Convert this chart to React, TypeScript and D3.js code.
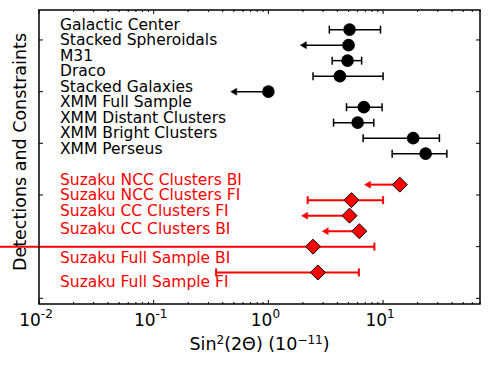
import * as d3 from "d3";

// detections / constraints (black)
const detNames = [
  "Galactic Center",
  "Stacked Spheroidals",
  "M31",
  "Draco",
  "Stacked Galaxies",
  "XMM Full Sample",
  "XMM Distant Clusters",
  "XMM Bright Clusters",
  "XMM Perseus",
];
const detRow = [5.2, 4.9, 4.6, 4.3, 4.0, 3.7, 3.4, 3.1, 2.8];
const detValue = [5.1, 5.0, 4.9, 4.2, 1.0, 6.8, 6.0, 18.3, 23.5];
const detLow = [3.4, null, 3.6, 2.45, null, 4.8, 3.7, 6.7, 12];
const detHigh = [9.5, null, 6.5, 10, null, 9.8, 8.3, 31, 36];
const detLimit = [null, 1.9, null, null, 0.47, null, null, null, null];

// Suzaku (red)
const suzNames = [
  "Suzaku NCC Clusters BI",
  "Suzaku NCC Clusters FI",
  "Suzaku CC Clusters FI",
  "Suzaku CC Clusters BI",
  "Suzaku Full Sample BI",
  "Suzaku Full Sample FI",
];
const suzRow = [2.2, 1.9, 1.6, 1.3, 1.0, 0.5];
const suzLabelRow = [2.2, 1.9, 1.6, 1.24, 0.69, 0.22];
const suzValue = [14, 5.3, 5.1, 6.2, 2.45, 2.7];
const suzLow = [null, 2.2, null, null, 0.004, 0.35];
const suzHigh = [null, 10, null, null, 8.4, 6.15];
const suzLimit = [6.9, null, 1.95, 2.95, null, null];

const xTickExps = [-2, -1, 0, 1];
const yTicks = [0, 1, 2, 3, 4, 5];

const W = 490;
const H = 365;
const left = 39;
const right = 480;
const top = 10;
const bottom = 304;
const font = "DejaVu Sans, sans-serif";

type Row = {
  name: string;
  row: number;
  labelRow: number;
  value: number;
  lo: number | null;
  hi: number | null;
  lim: number | null;
};

export default function App() {
  const x = d3.scaleLog().domain([0.01, 70]).range([left, right]);
  const y = d3.scaleLinear().domain([-0.11, 5.58]).range([bottom, top]);

  const minor: number[] = [];
  for (let e = -2; e <= 1; e++) {
    for (let m = 2; m <= 9; m++) {
      const v = m * Math.pow(10, e);
      if (v < 70.01) minor.push(v);
    }
  }

  const det: Row[] = detNames.map((name, i) => ({
    name,
    row: detRow[i],
    labelRow: detRow[i],
    value: detValue[i],
    lo: detLow[i],
    hi: detHigh[i],
    lim: detLimit[i],
  }));
  const suz: Row[] = suzNames.map((name, i) => ({
    name,
    row: suzRow[i],
    labelRow: suzLabelRow[i],
    value: suzValue[i],
    lo: suzLow[i],
    hi: suzHigh[i],
    lim: suzLimit[i],
  }));

  const bars = (rows: Row[], color: string, lw: number) =>
    rows.map((d, i) => {
      const py = y(d.row);
      if (d.lim != null) {
        const tx = x(d.lim);
        return (
          <g key={i} stroke={color} fill={color}>
            <line x1={x(d.value)} x2={tx + 4} y1={py} y2={py} strokeWidth={lw} />
            <path d={`M${tx},${py}L${tx + 6},${py - 3.5}L${tx + 6},${py + 3.5}Z`} strokeWidth={0.5} />
          </g>
        );
      }
      const x1 = x(d.lo as number);
      const x2 = x(d.hi as number);
      return (
        <g key={i} stroke={color} strokeWidth={lw}>
          <line x1={x1} x2={x2} y1={py} y2={py} />
          <line x1={x1} x2={x1} y1={py - 4} y2={py + 4} />
          <line x1={x2} x2={x2} y1={py - 4} y2={py + 4} />
        </g>
      );
    });

  return (
    <svg
      width={W}
      height={H}
      style={{ position: "absolute", left: 0, top: 0, background: "#fff" }}
      fontFamily={font}
    >
      <rect width={W} height={H} fill="#fff" />

      {/* ticks */}
      <g stroke="#000" strokeWidth={1}>
        {xTickExps.map((e) => {
          const px = x(Math.pow(10, e));
          return (
            <g key={e}>
              <line x1={px} x2={px} y1={bottom} y2={bottom - 4} />
              <line x1={px} x2={px} y1={top} y2={top + 4} />
            </g>
          );
        })}
        {minor.map((v, i) => (
          <g key={i}>
            <line x1={x(v)} x2={x(v)} y1={bottom} y2={bottom - 2} />
            <line x1={x(v)} x2={x(v)} y1={top} y2={top + 2} />
          </g>
        ))}
        {yTicks.map((t) => (
          <g key={t}>
            <line x1={left} x2={left + 4} y1={y(t)} y2={y(t)} />
            <line x1={right} x2={right - 4} y1={y(t)} y2={y(t)} />
          </g>
        ))}
      </g>

      {/* labels */}
      <g fontSize={15.5}>
        {det.map((d, i) => (
          <text key={i} x={60} y={y(d.labelRow)} fill="#000">
            {d.name}
          </text>
        ))}
        {suz.map((d, i) => (
          <text key={i} x={60} y={y(d.labelRow)} fill="#ff0000">
            {d.name}
          </text>
        ))}
      </g>

      {bars(det, "#000", 1.5)}
      {bars(suz, "#ff0000", 2)}

      {det.map((d, i) => (
        <circle key={i} cx={x(d.value)} cy={y(d.row)} r={6.3} fill="#000" />
      ))}
      {suz.map((d, i) => {
        const cx = x(d.value);
        const cy = y(d.row);
        const s = 7.5;
        return (
          <path
            key={i}
            d={`M${cx},${cy - s}L${cx + s},${cy}L${cx},${cy + s}L${cx - s},${cy}Z`}
            fill="#ff0000"
            stroke="#000"
            strokeWidth={1}
          />
        );
      })}

      {/* frame */}
      <rect
        x={left}
        y={top}
        width={right - left}
        height={bottom - top}
        fill="none"
        stroke="#000"
        strokeWidth={1.5}
      />

      {/* x tick labels */}
      <g fontSize={17} textAnchor="middle">
        {xTickExps.map((e) => (
          <text key={e} x={x(Math.pow(10, e)) - 3} y={325.5}>
            10
            <tspan fontSize={12} dy={-8}>
              {e}
            </tspan>
          </text>
        ))}
      </g>

      <text x={(left + right) / 2} y={350} fontSize={17.5} textAnchor="middle">
        Sin
        <tspan fontSize={12} dy={-6}>
          2
        </tspan>
        <tspan dy={6}>(2Θ) (10</tspan>
        <tspan fontSize={12} dy={-6}>
          −11
        </tspan>
        <tspan dy={6}>)</tspan>
      </text>

      <text
        transform={`translate(26,152) rotate(-90)`}
        fontSize={17.5}
        textAnchor="middle"
      >
        Detections and Constraints
      </text>
    </svg>
  );
}
